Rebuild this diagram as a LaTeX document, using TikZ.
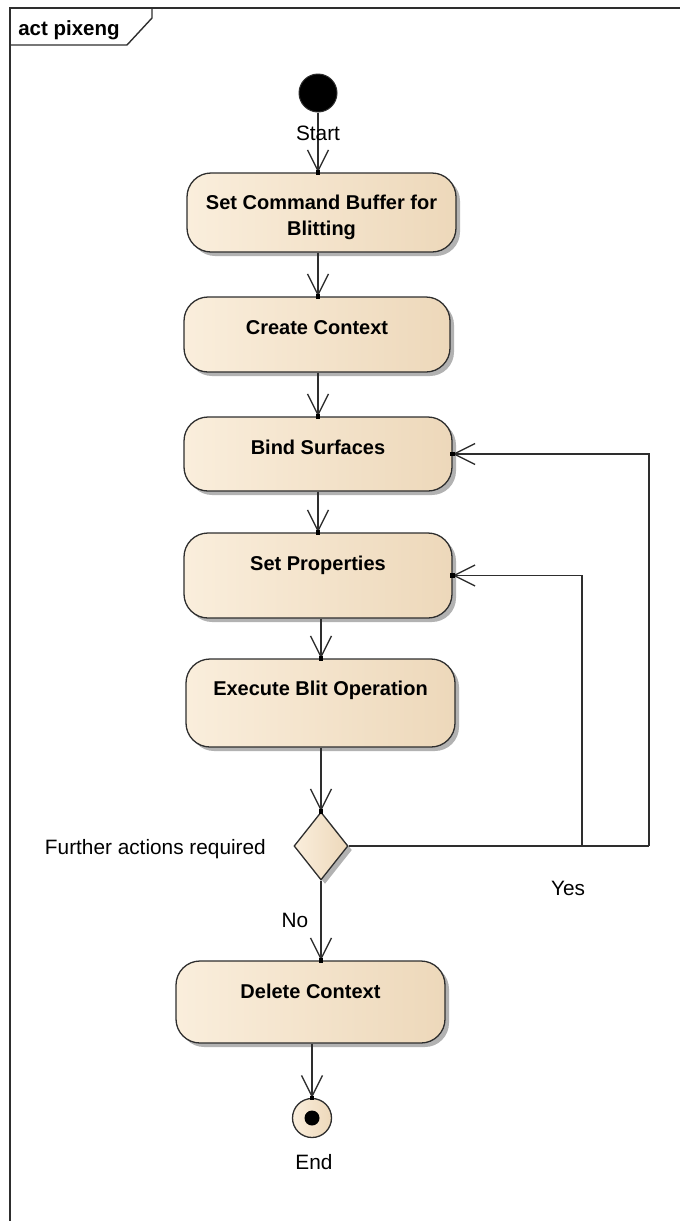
\documentclass[tikz,border=0pt]{standalone}
\usepackage{fontspec}
\setmainfont{Liberation Sans}
\usetikzlibrary{arrows.meta,shapes.geometric,shadows}

\definecolor{lineC}{HTML}{2E2E2E}
\definecolor{fillL}{HTML}{FAEEDC}
\definecolor{fillM}{HTML}{FBF1E4}
\definecolor{fillR}{HTML}{EDD8BA}

\tikzset{
  frameline/.style={draw=lineC, line width=1.4pt},
  action/.style={draw=lineC, line width=1.3pt, rounded corners=24pt,
    left color=fillL, middle color=fillM, right color=fillR,
    drop shadow={shadow xshift=4pt, shadow yshift=-4pt, opacity=0.3, fill=black},
    inner sep=0pt},
  acttext/.style={font=\fontsize{20}{26}\selectfont\bfseries, align=center, inner sep=0pt, text=black},
  lbl/.style={font=\fontsize{20.8}{24}\selectfont, inner sep=0pt, text=black},
  flow/.style={draw=lineC, line width=1.3pt,
    -{Straight Barb[length=21pt, width=21pt, line width=1.3pt]}},
  plain/.style={draw=lineC, line width=1.3pt},
  tipdot/.style={fill=black, minimum size=4.5pt, inner sep=0pt, shape=rectangle},
}

\begin{document}
\begin{tikzpicture}[x=1pt, y=-1pt]
\useasboundingbox (0,0) rectangle (680,1221);

% diagram frame and its name tab
\draw[frameline] (10,1225) -- (10,8) -- (684,8);
\draw[frameline] (10,45) -- (127,45) -- (152,18) -- (152,8);
\node[font=\fontsize{20.5}{24}\selectfont\bfseries, inner sep=0pt, anchor=base] (title) at (69,35) {act pixeng};

% initial node
\node[circle, fill=black, draw=lineC, line width=1pt, minimum size=38pt, inner sep=0pt] (start) at (318,93) {};

% action boxes
\node[action, minimum width=269pt, minimum height=79pt] (b1) at (321.5,212.5) {};
\node[action, minimum width=266pt, minimum height=75pt] (b2) at (317,334.5) {};
\node[action, minimum width=268pt, minimum height=74pt] (b3) at (318,454) {};
\node[action, minimum width=268pt, minimum height=85pt] (b4) at (318,575.5) {};
\node[action, minimum width=269pt, minimum height=88pt] (b5) at (320.5,703) {};
\node[action, minimum width=269pt, minimum height=82pt] (b6) at (310.5,1002) {};

% action names, set near the top of each box
\node[acttext] (t1) at (321.5,217) {Set Command Buffer for\\Blitting};
\node[acttext, anchor=base] (t2) at (317,334) {Create Context};
\node[acttext, anchor=base] (t3) at (318,454) {Bind Surfaces};
\node[acttext, anchor=base] (t4) at (318,570) {Set Properties};
\node[acttext, anchor=base] (t5) at (320.5,695) {Execute Blit Operation};
\node[acttext, anchor=base] (t6) at (310.5,998) {Delete Context};

% decision
\node[diamond, draw=lineC, line width=1.3pt, minimum width=54pt, minimum height=68pt, inner sep=0pt,
  left color=fillL, middle color=fillM, right color=fillR,
  drop shadow={shadow xshift=4pt, shadow yshift=-4pt, opacity=0.3, fill=black}] (dec) at (321,846) {};

% final node
\node[circle, draw=lineC, line width=1.3pt, minimum size=39pt, inner sep=0pt,
  left color=fillL, right color=fillR] (end) at (312,1118) {};
\node[circle, fill=black, minimum size=15pt, inner sep=0pt] (enddot) at (end.center) {};

% control flow
\draw[flow] (start) -- (start |- b1.north);
\draw[flow] (b1.south -| 318,0) -- (b2.north -| 318,0);
\draw[flow] (b2.south -| 318,0) -- (b3.north -| 318,0);
\draw[flow] (b3.south -| 318,0) -- (b4.north -| 318,0);
\draw[flow] (b4.south -| 321,0) -- (b5.north -| 321,0);
\draw[flow] (b5.south -| dec) -- (dec.north);
\draw[flow] (dec.south) -- (b6.north -| dec);
\draw[flow] (b6.south -| end) -- (end.north);

\coordinate (loopA) at (649,846);
\coordinate (loopB) at (582,846);
\draw[plain] (dec.east) -- (loopA);
\draw[flow] (loopA) |- (b3.east);
\draw[flow] (loopB) |- (b4.east);

% small marks at arrow tips
\node[tipdot] at (start |- b1.north) {};
\node[tipdot] at (b2.north -| 318,0) {};
\node[tipdot] at (b3.north -| 318,0) {};
\node[tipdot] at (b4.north -| 318,0) {};
\node[tipdot] at (b5.north -| 321,0) {};
\node[tipdot] at (dec.north) {};
\node[tipdot] at (b6.north -| dec) {};
\node[tipdot] at (end.north) {};
\node[tipdot] at (b3.east) {};
\node[tipdot] at (b4.east) {};

% labels
\node[lbl, anchor=base] (lstart) at (318,140) {Start};
\node[lbl, anchor=base east] (lq) at (266,854) {Further actions required};
\node[lbl, anchor=base] (lyes) at (568,895) {Yes};
\node[lbl, anchor=base] (lno) at (295,927) {No};
\node[lbl, anchor=base] (lend) at (314,1169) {End};
\end{tikzpicture}
\end{document}
